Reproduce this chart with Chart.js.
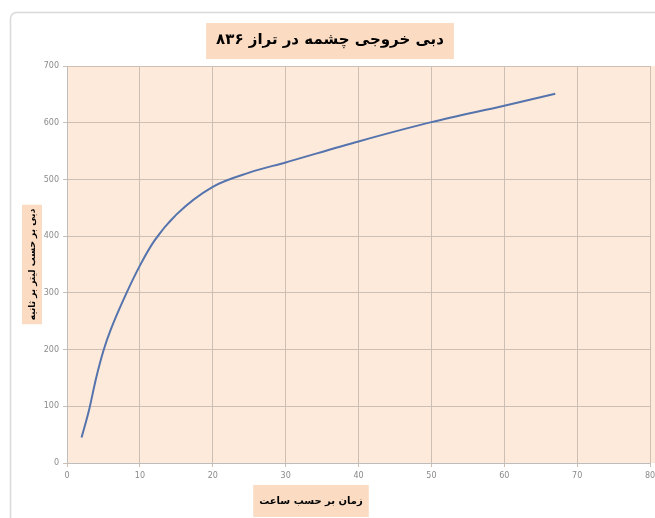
<!DOCTYPE html>
<html>
<head>
<meta charset="utf-8">
<script src="https://cdn.jsdelivr.net/npm/chart.js@4/dist/chart.umd.min.js"></script>
<style>
  html, body { margin: 0; padding: 0; background: #ffffff; }
  #chart { display: block; }
</style>
</head>
<body>
<canvas id="chart" width="655" height="518"></canvas>
<script>
    // Spring discharge vs time
    const hours = [2, 3, 4, 5, 6, 8, 10, 12, 15, 20, 25, 30, 40, 50, 60, 67];
    const discharge = [45, 92, 150, 198, 235, 295, 348, 392, 438, 487, 512, 530, 567, 601, 630, 651];

    const xTicks = [0, 10, 20, 30, 40, 50, 60, 70, 80];
    const yTicks = [0, 100, 200, 300, 400, 500, 600, 700];

    const titleText = 'دبی خروجی چشمه در تراز ۸۳۶';
    const xTitleText = 'زمان بر حسب ساعت';
    const yTitleText = 'دبی بر حسب لیتر بر ثانیه';

    const colors = {
        plotBg: '#fdeadb',
        labelBox: '#fbdcc3',
        grid: '#cdbfb3',
        line: '#5574ad',
        tick: '#8a8a8a',
        frame: '#d9d9d9'
    };

    const fontFamily = '"DejaVu Sans", sans-serif';
    const xTitleFont = 'bold 10px ' + fontFamily;

    // paints the frame, plot background and the tan boxes behind the titles
    const backdrop = {
        id: 'backdrop',
        beforeDraw(chart) {
            const ctx = chart.ctx;
            const area = chart.chartArea;
            ctx.save();

            ctx.strokeStyle = colors.frame;
            ctx.lineWidth = 1.5;
            ctx.beginPath();
            ctx.roundRect(10.5, 12.5, 700, 600, 6);
            ctx.stroke();

            ctx.fillStyle = colors.plotBg;
            ctx.fillRect(area.left, area.top, chart.width - area.left, area.bottom - area.top);

            ctx.fillStyle = colors.labelBox;
            const tb = chart.titleBlock;
            ctx.font = 'bold 15px ' + fontFamily;
            let w = ctx.measureText(titleText).width;
            let cx = (tb.left + tb.right) / 2;
            let cy = tb.top + tb.height / 2 + 2;
            ctx.fillRect(cx - w / 2 - 10, cy - 18, w + 20, 36);

            ctx.font = xTitleFont;
            w = ctx.measureText(xTitleText).width;
            ctx.fillRect(311 - w / 2 - 6, 485, w + 12, 32);

            ctx.font = 'bold 9px ' + fontFamily;
            w = ctx.measureText(yTitleText).width;
            cy = (area.top + area.bottom) / 2;
            ctx.fillRect(22, cy - w / 2 - 4, 20, w + 8);

            ctx.restore();
        },
        // x axis title sits left of centre in the original, so it is written here
        afterDraw(chart) {
            const ctx = chart.ctx;
            ctx.save();
            ctx.font = xTitleFont;
            ctx.fillStyle = '#000000';
            ctx.textAlign = 'center';
            ctx.textBaseline = 'middle';
            ctx.fillText(xTitleText, 311, 501);
            ctx.restore();
        }
    };

    new Chart(document.getElementById('chart'), {
        type: 'scatter',
        data: {
            datasets: [{
                label: 'دبی',
                data: hours.map((h, i) => ({ x: h, y: discharge[i] })),
                showLine: true,
                borderColor: colors.line,
                borderWidth: 2,
                pointRadius: 0,
                cubicInterpolationMode: 'monotone',
                fill: false
            }]
        },
        options: {
            responsive: false,
            animation: false,
            layout: {
                padding: { left: 10, right: 5, top: 12, bottom: 0 }
            },
            plugins: {
                legend: { display: false },
                tooltip: { enabled: false },
                title: {
                    display: true,
                    text: titleText,
                    color: '#000000',
                    font: { family: fontFamily, size: 15, weight: 'bold' },
                    padding: { top: 19, bottom: 17 }
                }
            },
            scales: {
                x: {
                    type: 'linear',
                    min: 0,
                    max: 80,
                    afterBuildTicks: s => { s.ticks = xTicks.map(v => ({ value: v })); },
                    afterFit: s => { s.height = 55; s.paddingRight = 0; },
                    grid: { color: colors.grid, tickLength: 4, drawTicks: true },
                    border: { color: '#bdbdbd' },
                    ticks: { color: colors.tick, font: { family: fontFamily, size: 8 }, padding: 4 }
                },
                y: {
                    min: 0,
                    max: 700,
                    afterBuildTicks: s => { s.ticks = yTicks.map(v => ({ value: v })); },
                    afterFit: s => { s.width = 57; s.paddingTop = 0; },
                    grid: { color: colors.grid, tickLength: 4 },
                    border: { color: '#bdbdbd' },
                    ticks: { color: colors.tick, font: { family: fontFamily, size: 8 }, padding: 4 },
                    title: {
                        display: true,
                        text: yTitleText,
                        color: '#000000',
                        font: { family: fontFamily, size: 9, weight: 'bold' },
                        padding: { top: 17, bottom: 0 }
                    }
                }
            }
        },
        plugins: [backdrop]
    });
</script>
</body>
</html>
